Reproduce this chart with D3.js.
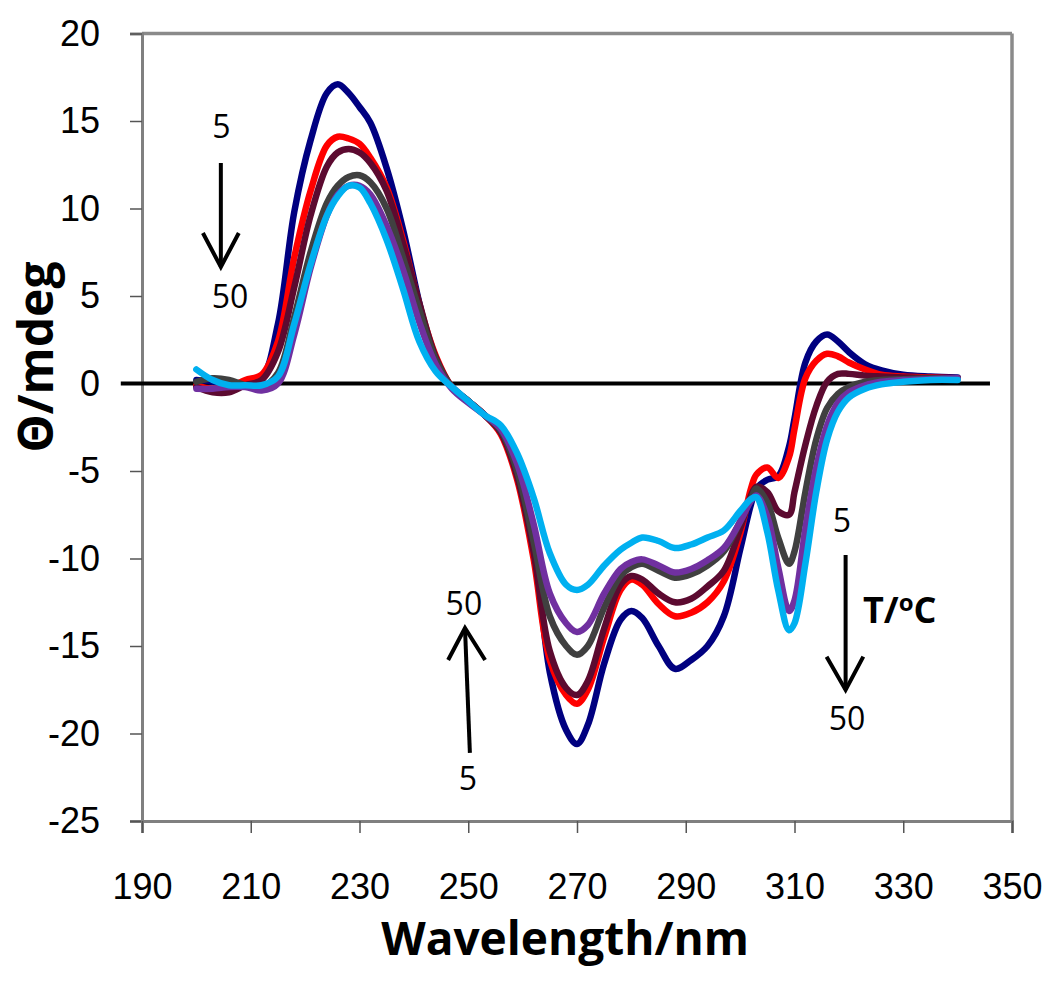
<!DOCTYPE html>
<html><head><meta charset="utf-8">
<script src="https://cdn.jsdelivr.net/npm/d3@7/dist/d3.min.js"></script>
<style>body{margin:0;background:#fff}</style>
</head><body><svg id="c" width="1050" height="991"></svg>
<script>
const wavelengths = [200,203,206,209,212,215,218,221,224,226,228,230,232,235,238,241,244,247,250,253,256,259,262,265,268,270,272,275,278,280,282,285,288,291,294,297,300,302,303,305,307,309,310,312,314,316,318,320,323,326,330,335,340];
const navySeries   = [0.2,0.1,-0.1,0.0,0.3,3.4,9.8,13.9,16.6,17.1,16.6,15.8,14.9,12.3,8.8,4.6,1.0,-0.2,-1.0,-1.8,-2.8,-5.2,-9.0,-16.5,-19.8,-20.6,-19.5,-16.0,-13.5,-13.0,-13.4,-15.0,-16.3,-15.8,-15.0,-13.3,-9.5,-6.9,-6.0,-5.5,-5.3,-3.6,-2.0,1.2,2.4,2.8,2.4,1.8,1.1,0.75,0.5,0.4,0.35];
const redSeries    = [-0.1,-0.3,-0.2,0.2,0.5,2.4,7.2,11.0,13.6,14.1,14.0,13.7,12.9,11.2,8.2,4.5,1.6,-0.2,-1.0,-1.8,-2.9,-5.5,-10.0,-15.8,-17.8,-18.3,-17.5,-14.5,-11.8,-11.2,-11.5,-12.6,-13.3,-13.1,-12.5,-11.3,-8.6,-6.0,-5.2,-4.8,-5.4,-4.2,-2.6,0.3,1.3,1.7,1.55,1.2,0.8,0.5,0.4,0.35,0.3];
const maroonSeries = [-0.2,-0.5,-0.5,-0.1,0.2,1.8,5.5,9.6,12.4,13.2,13.4,13.2,12.6,11.0,8.0,4.6,1.5,-0.2,-1.0,-1.8,-2.8,-5.3,-9.6,-15.3,-17.4,-17.8,-17.0,-14.0,-11.5,-11.0,-11.2,-12.0,-12.5,-12.3,-11.6,-10.7,-8.3,-6.4,-5.9,-6.2,-7.3,-7.5,-6.2,-3.5,-1.3,0.1,0.55,0.55,0.45,0.4,0.35,0.3,0.3];
const graySeries   = [0.1,0.3,0.2,-0.1,-0.2,0.6,3.8,7.5,10.3,11.3,11.8,11.9,11.5,10.0,7.2,4.2,1.4,-0.2,-1.0,-1.8,-2.7,-5.0,-9.0,-13.3,-15.0,-15.5,-15.0,-12.8,-11.0,-10.5,-10.3,-10.7,-11.1,-10.9,-10.4,-9.6,-7.9,-6.6,-6.0,-6.8,-8.8,-10.3,-9.6,-6.2,-3.2,-1.4,-0.6,-0.2,0.1,0.2,0.25,0.3,0.3];
const purpleSeries = [-0.3,-0.3,-0.2,-0.2,-0.4,0.0,2.8,6.6,9.6,10.8,11.3,11.3,10.8,9.0,6.5,3.5,1.1,-0.3,-1.1,-1.8,-2.6,-4.6,-8.0,-12.0,-13.7,-14.2,-13.8,-12.0,-10.6,-10.2,-10.05,-10.4,-10.8,-10.6,-10.1,-9.4,-7.9,-6.7,-6.4,-7.6,-10.5,-13.0,-12.4,-8.3,-4.8,-2.4,-1.1,-0.5,-0.1,0.1,0.2,0.25,0.3];
const cyanSeries   = [0.8,0.2,-0.1,-0.1,-0.1,0.4,3.4,6.8,9.6,10.7,11.3,11.2,10.3,8.2,5.4,2.4,0.7,-0.2,-1.0,-1.8,-2.4,-4.0,-6.5,-9.7,-11.5,-11.8,-11.5,-10.4,-9.5,-9.1,-8.8,-9.0,-9.4,-9.2,-8.8,-8.4,-7.3,-6.6,-6.5,-8.5,-11.8,-14.1,-13.7,-10.3,-6.2,-3.2,-1.6,-0.8,-0.3,-0.05,0.1,0.2,0.2];
const seriesColors = ["#000080","#ff0000","#5c0a30","#404040","#7030a0","#00b0f0"];
const xTicks = [190,210,230,250,270,290,310,330,350];
const yTicks = [-25,-20,-15,-10,-5,0,5,10,15,20];

const allSeries = [navySeries, redSeries, maroonSeries, graySeries, purpleSeries, cyanSeries];

const svg = d3.select('#c');
const x = d3.scaleLinear().domain([190,350]).range([142,1012]);
const y = d3.scaleLinear().domain([-25,20]).range([821,33.5]);

// frame
svg.append('line').attr('x1',x(190)).attr('x2',x(350)).attr('y1',y(20)).attr('y2',y(20)).attr('stroke','#8a8a8a').attr('stroke-width',3.5);
svg.append('line').attr('x1',x(350)).attr('x2',x(350)).attr('y1',y(20)).attr('y2',y(-25)).attr('stroke','#8a8a8a').attr('stroke-width',3.5);

const yAxis = d3.axisLeft(y).tickValues(yTicks).tickSize(12).tickPadding(30).tickFormat(d3.format('d'));
const gy = svg.append('g').attr('transform',`translate(${x(190)},0)`).call(yAxis);
const xAxis = d3.axisBottom(x).tickValues(xTicks).tickSize(12).tickPadding(40).tickFormat(d3.format('d'));
const gx = svg.append('g').attr('transform',`translate(0,${y(-25)})`).call(xAxis);
[gx,gy].forEach(g=>{
  g.select('.domain').attr('stroke','#808080').attr('stroke-width',3);
  g.selectAll('.tick line').attr('stroke','#555').attr('stroke-width',1.5);
  g.selectAll('.tick text').attr('font-family','"Liberation Sans", Arial, sans-serif').attr('font-size',36).attr('fill','#000');
});
gy.selectAll('.tick text').text(d=>d<0?'-'+Math.abs(d):d);

// zero line
svg.append('line').attr('x1',x(186.1)).attr('x2',x(345.95)).attr('y1',y(0)).attr('y2',y(0)).attr('stroke','#000').attr('stroke-width',4);

// series
const line = d3.line().x((d,i)=>x(wavelengths[i])).y(d=>y(d)).curve(d3.curveCatmullRom.alpha(0.5));
allSeries.forEach((s,k)=>{
  svg.append('path').datum(s).attr('d',line).attr('fill','none')
    .attr('stroke',seriesColors[k]).attr('stroke-width',6.5)
    .attr('stroke-linejoin','round').attr('stroke-linecap','round');
});

// titles
svg.append('text').attr('x',565).attr('y',955).attr('text-anchor','middle')
  .attr('font-family','"Open Sans", sans-serif').attr('font-weight','bold').attr('font-size',46).text('Wavelength/nm');
svg.append('text').attr('transform','translate(53,357) rotate(-90)').attr('text-anchor','middle')
  .attr('font-family','"Open Sans", sans-serif').attr('font-weight','bold').attr('font-size',48).text('Θ/mdeg');

// annotations
const ann = svg.append('g').attr('font-family','"Open Sans", sans-serif').attr('font-size',32).attr('fill','#000');
function arrow(x0,y0,x1,y1,wl,wr,wy){
  ann.append('line').attr('x1',x(x0)).attr('y1',y(y0)).attr('x2',x(x1)).attr('y2',y(y1)).attr('stroke','#000').attr('stroke-width',4);
  ann.append('path').attr('d',`M${x(wl)},${y(wy)}L${x(x1)},${y(y1)}L${x(wr)},${y(wy)}`).attr('fill','none').attr('stroke','#000').attr('stroke-width',4);
}
function label(t,xv,yv){ ann.append('text').attr('x',x(xv)).attr('y',y(yv)).attr('text-anchor','middle').text(t); }
// left
label('5',204.6,14.03); label('50',206.2,4.31);
arrow(204.5,12.6,204.5,6.66,201.2,207.8,8.6);
// middle
label('50',249.2,-13.23); label('5',249.95,-23.23);
arrow(250.3,-21.11,249.4,-13.97,246.3,253.1,-15.8);
// right
label('5',318.7,-8.49); label('50',319.65,-19.8);
arrow(319.4,-9.8,319.4,-17.51,315.9,322.65,-15.61);
const tl = ann.append('text').attr('x',x(322.6)).attr('y',y(-13.69)).attr('font-weight','bold').attr('font-size',36);
tl.append('tspan').text('T/');
tl.append('tspan').attr('dy',-12).attr('font-size',24).text('o');
tl.append('tspan').attr('dy',12).text('C');
</script></body></html>
